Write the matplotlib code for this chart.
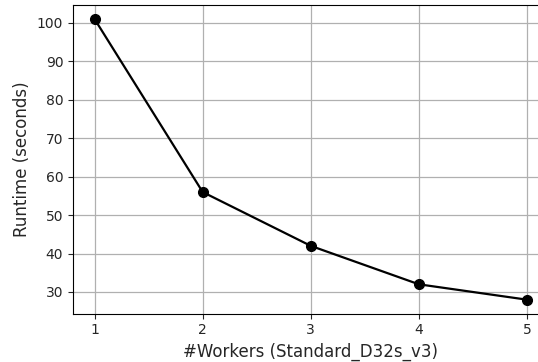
import numpy as np
import matplotlib
matplotlib.use("Agg")
import matplotlib.pyplot as plt

workers = [1, 2, 3, 4, 5]
runtime = [101, 56, 42, 32, 28]

fig = plt.figure(figsize=(5.38, 3.62), dpi=100)
# axes run slightly past the right edge, like the cropped original
ax = fig.add_axes([0.1357, 0.1334, 0.884, 0.8525])

ax.plot(workers, runtime, c='k', marker='o', markersize=7, lw=1.6)
ax.grid(True, color='#b0b0b0', lw=0.9)
ax.set_axisbelow(True)

ax.set_xticks(workers)
ax.tick_params(labelsize=10, colors='#262626')
ax.set_xlabel('#Workers (Standard_D32s_v3)', fontsize=12, color='#262626')
ax.set_ylabel('Runtime (seconds)', fontsize=12, color='#262626')

fig.savefig('out.png', dpi=100)
